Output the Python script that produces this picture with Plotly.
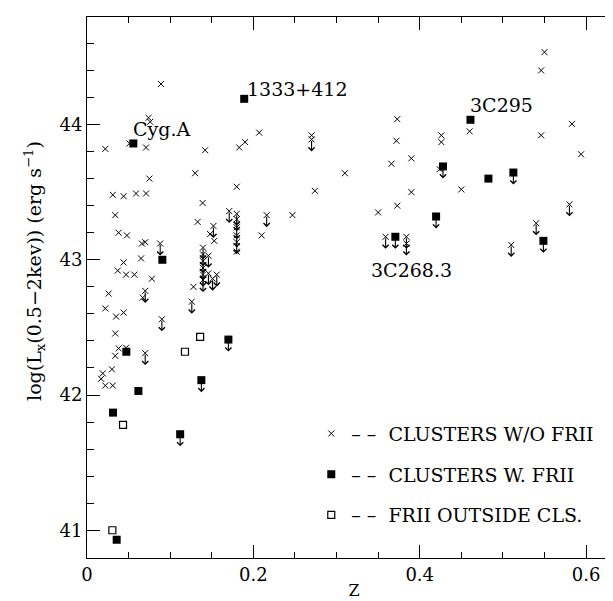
import plotly.graph_objects as go

# ---- data: redshift z and log Lx ----
# clusters without FRII (detections)
cross_z = [0.089, 0.074, 0.076, 0.051, 0.022, 0.071, 0.142, 0.183, 0.190, 0.207,
           0.075, 0.130, 0.180, 0.031, 0.044, 0.059, 0.071, 0.139, 0.034, 0.133,
           0.148, 0.153, 0.210, 0.038, 0.048, 0.066, 0.070, 0.065, 0.044, 0.037,
           0.047, 0.057, 0.078, 0.128, 0.026, 0.067, 0.022, 0.035, 0.044, 0.034,
           0.038, 0.047, 0.034, 0.030, 0.019, 0.017, 0.022, 0.031, 0.180, 0.373,
           0.372, 0.426, 0.426, 0.424, 0.390, 0.366, 0.310, 0.274, 0.390, 0.450,
           0.373, 0.460, 0.550, 0.546, 0.583, 0.546, 0.594, 0.247, 0.350, 0.270]
cross_l = [44.30, 44.05, 44.02, 43.86, 43.82, 43.83, 43.81, 43.83, 43.87, 43.94,
           43.60, 43.64, 43.54, 43.48, 43.47, 43.49, 43.49, 43.42, 43.33, 43.28,
           43.19, 43.14, 43.18, 43.20, 43.18, 43.12, 43.13, 43.01, 42.98, 42.92,
           42.89, 42.89, 42.86, 42.80, 42.75, 42.72, 42.64, 42.58, 42.61, 42.455,
           42.345, 42.35, 42.29, 42.19, 42.16, 42.12, 42.07, 42.07, 43.06, 44.04,
           43.88, 43.92, 43.87, 43.67, 43.75, 43.71, 43.64, 43.51, 43.50, 43.52,
           43.40, 43.95, 44.535, 44.40, 44.005, 43.92, 43.78, 43.33, 43.35, 43.92]
# clusters without FRII (upper limits)
xul_z = [0.088, 0.171, 0.180, 0.180, 0.180, 0.180, 0.180, 0.152, 0.216, 0.1395,
         0.1395, 0.1395, 0.1395, 0.1395, 0.1395, 0.146, 0.146, 0.151, 0.156, 0.126,
         0.070, 0.090, 0.070, 0.270, 0.580, 0.540, 0.510, 0.359, 0.384, 0.384]
xul_l = [43.12, 43.36, 43.34, 43.30, 43.24, 43.18, 43.13, 43.25, 43.33, 43.09,
         43.04, 42.99, 42.94, 42.89, 42.85, 43.03, 42.90, 42.86, 42.89, 42.69,
         42.77, 42.56, 42.31, 43.89, 43.41, 43.27, 43.11, 43.17, 43.17, 43.12]
# clusters with FRII (detections)
fr_z = [0.0557, 0.189, 0.461, 0.0906, 0.0473, 0.0618, 0.0313, 0.0357, 0.4826]
fr_l = [43.86, 44.19, 44.035, 43.00, 42.32, 42.03, 41.87, 40.93, 43.60]
# clusters with FRII (upper limits)
frul_z = [0.170, 0.1375, 0.112, 0.428, 0.5126, 0.5487, 0.4197, 0.3707]
frul_l = [42.41, 42.11, 41.71, 43.69, 43.645, 43.14, 43.32, 43.17]
# FRII outside clusters
op_z = [0.0305, 0.0433, 0.1178, 0.136]
op_l = [41.00, 41.78, 42.32, 42.43]

# labelled sources: (name, z, logL)
label_names = ["Cyg.A", "1333+412", "3C295", "3C268.3"]
label_z = [fr_z[0], fr_z[1], fr_z[2], frul_z[7]]
label_l = [fr_l[0], fr_l[1], fr_l[2], frul_l[7]]

legend_names = ["CLUSTERS W/O FRII", "CLUSTERS W. FRII", "FRII OUTSIDE CLS."]
x_title = "Z"
y_title = "log(L<sub>x</sub>(0.5−2kev)) (erg s<sup>−1</sup>)"

FONT = "DejaVu Serif"
NB = "\u00a0"
DASH = "–" + NB + "–" + NB * 2

fig = go.Figure()
fig.add_trace(go.Scatter(
    x=cross_z + xul_z, y=cross_l + xul_l, mode="markers",
    name=DASH + legend_names[0], legendgroup="a",
    marker=dict(symbol="x-thin", size=6, color="black",
                line=dict(color="black", width=1)),
))
fig.add_trace(go.Scatter(
    x=fr_z + frul_z, y=fr_l + frul_l, mode="markers",
    name=DASH + legend_names[1], legendgroup="b",
    marker=dict(symbol="square", size=8, color="black",
                line=dict(color="black", width=0)),
))
fig.add_trace(go.Scatter(
    x=op_z, y=op_l, mode="markers",
    name=DASH + legend_names[2], legendgroup="c",
    marker=dict(symbol="square-open", size=7, color="black",
                line=dict(color="black", width=1.2)),
))

annotations = []
# upper-limit arrows
for zz, ll in zip(xul_z + frul_z, xul_l + frul_l):
    annotations.append(dict(
        x=zz, y=ll, xref="x", yref="y", text="", showarrow=True,
        ax=0, ay=-12, yshift=-12, arrowhead=4, arrowsize=1.1,
        arrowwidth=1.1, arrowcolor="black", standoff=0, startstandoff=0,
    ))

# source labels
lab_style = [
    dict(xanchor="left", yanchor="middle", xshift=-2, yshift=14),
    dict(xanchor="left", yanchor="middle", xshift=1, yshift=10),
    dict(xanchor="left", yanchor="middle", xshift=-2, yshift=15),
    dict(xanchor="center", yanchor="middle", xshift=16, yshift=-33),
]
for name, zz, ll, st in zip(label_names, label_z, label_l, lab_style):
    annotations.append(dict(
        x=zz, y=ll, xref="x", yref="y", text=name, showarrow=False,
        font=dict(family=FONT, size=19, color="black"), **st))

# y-axis title as a rotated annotation
annotations.append(dict(
    x=-0.098, y=0.53, xref="paper", yref="paper", text=y_title,
    textangle=-90, showarrow=False, xanchor="center", yanchor="middle",
    font=dict(family=FONT, size=19, color="black")))

axis_common = dict(
    showline=True, linecolor="black", linewidth=1, mirror="allticks",
    ticks="inside", tickcolor="black", tickwidth=1, ticklen=13,
    showgrid=False, zeroline=False,
    tickfont=dict(family=FONT, size=18, color="black"),
)

fig.update_layout(
    width=613, height=601,
    margin=dict(l=79, r=0, t=9, b=51),
    paper_bgcolor="white", plot_bgcolor="white",
    showlegend=True,
    legend=dict(x=0.42, y=0.265, xanchor="left", yanchor="top",
                bgcolor="rgba(0,0,0,0)", borderwidth=0,
                traceorder="grouped", tracegroupgap=13,
                font=dict(family=FONT, size=19, color="black")),
    annotations=annotations,
    xaxis=dict(range=[0, 0.642], tick0=0, dtick=0.2,
               minor=dict(ticks="inside", dtick=0.05, ticklen=6,
                          tickcolor="black", tickwidth=1),
               title=dict(text=x_title, font=dict(family=FONT, size=16, color="black"),
                          standoff=1),
               **axis_common),
    yaxis=dict(range=[40.795, 44.795], tick0=41, dtick=1,
               minor=dict(ticks="inside", dtick=0.2, ticklen=7,
                          tickcolor="black", tickwidth=1),
               **axis_common),
)

fig.write_html("out.html")
